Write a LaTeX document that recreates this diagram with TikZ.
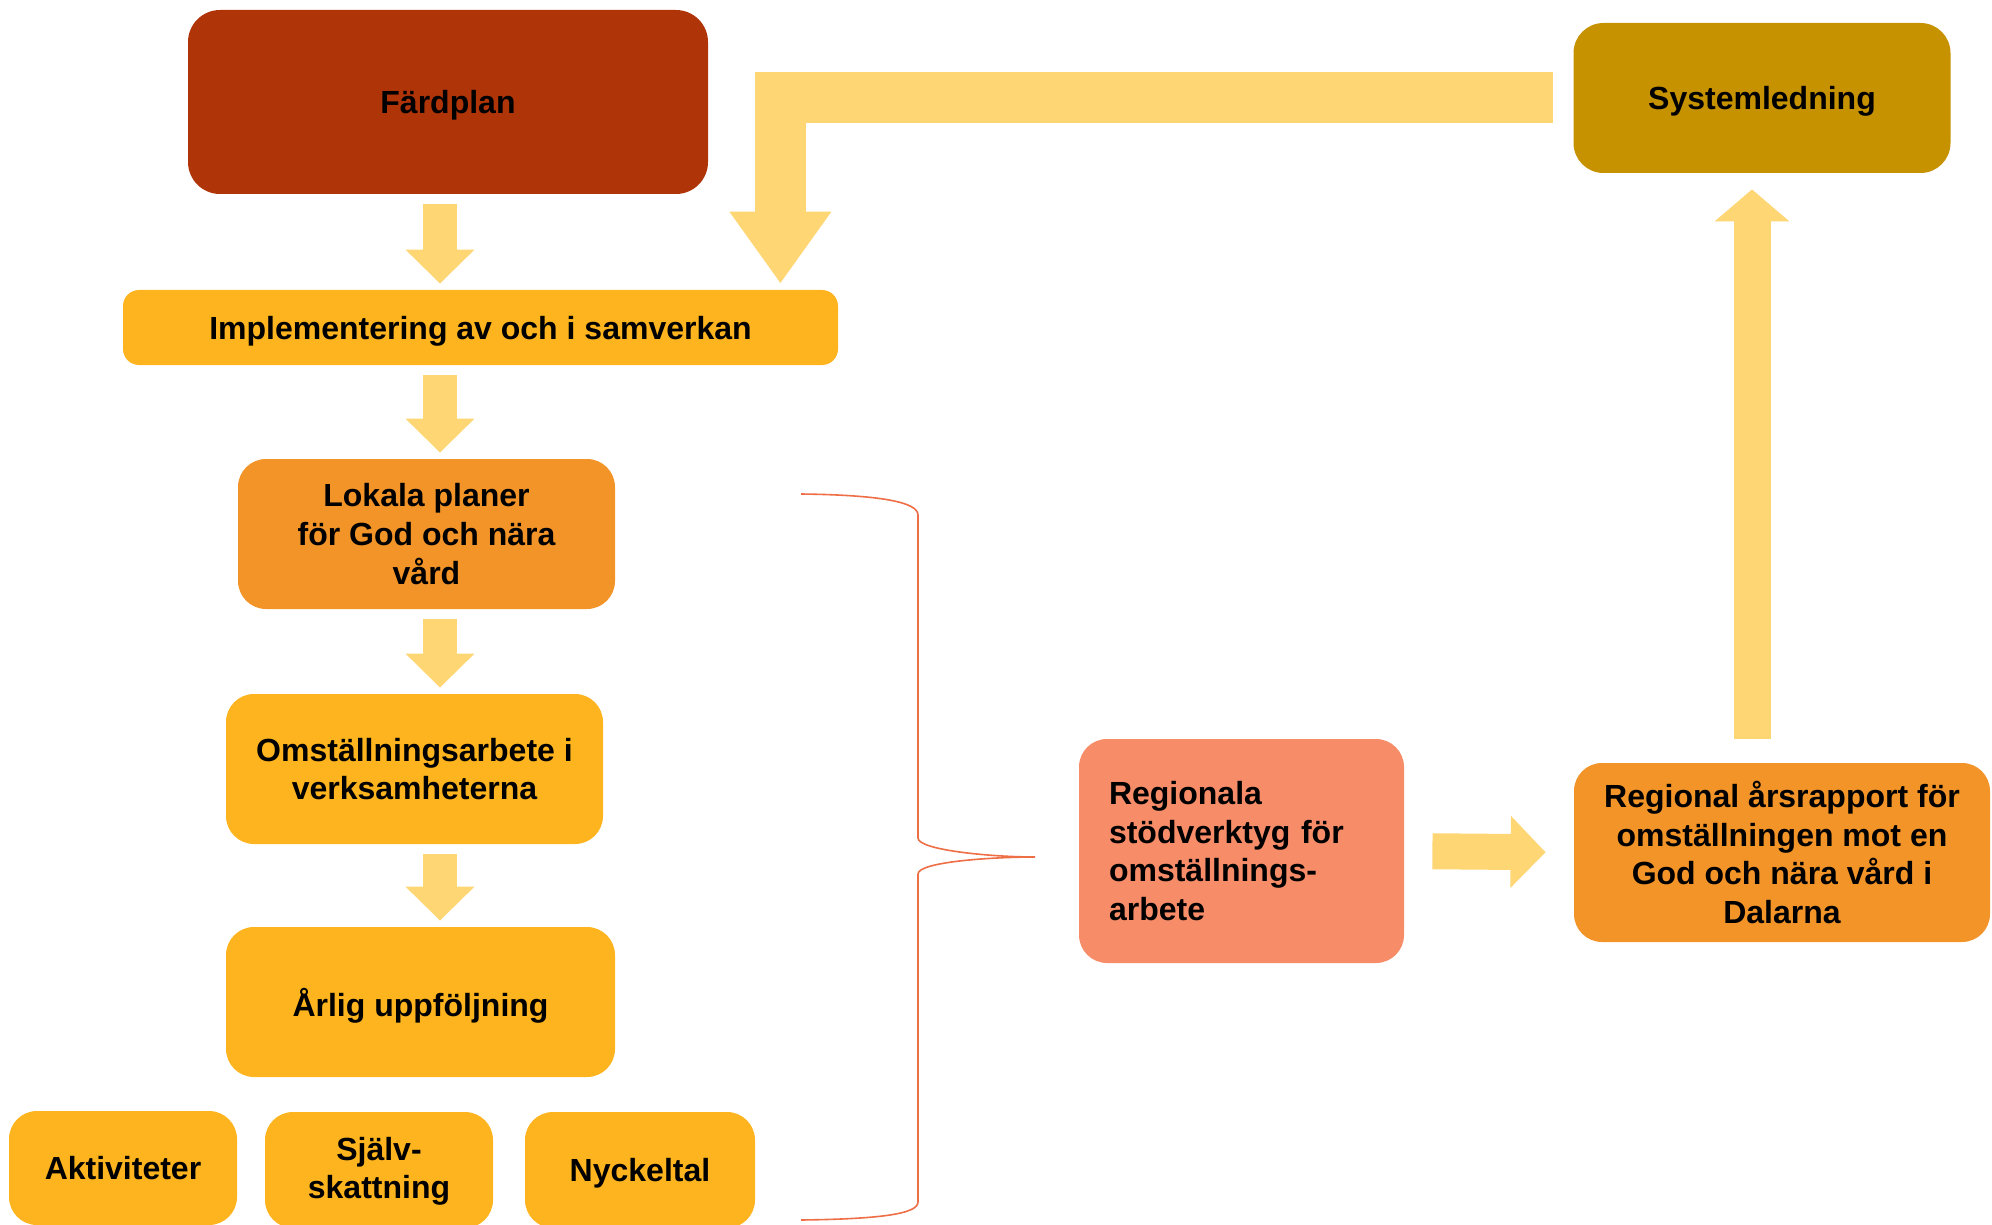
\documentclass[tikz,border=0pt]{standalone}
\usepackage{fontspec}
\setmainfont{Liberation Sans}
\usetikzlibrary{arrows.meta}

\definecolor{rust}{HTML}{AF3408}
\definecolor{mustard}{HTML}{C79200}
\definecolor{gold}{HTML}{FDB41E}
\definecolor{amber}{HTML}{F29428}
\definecolor{salmon}{HTML}{F78C68}
\definecolor{pale}{HTML}{FED673}
\definecolor{bracered}{HTML}{EE6E46}

\tikzset{
	box/.style={rounded corners=14pt, inner sep=0pt, align=center, text=black,
		font=\fontsize{16}{19.3}\selectfont\bfseries},
	oneline/.style={text depth=0pt},
	smallarrow/.style={draw=pale, line width=17pt, -{Triangle[length=17pt,width=33.5pt]},
		shorten <=5pt, shorten >=3pt},
	bigarrow/.style={draw=pale, line width=25.5pt, -{Triangle[length=36pt,width=48.5pt]}},
	midarrow/.style={draw=pale, line width=18pt, -{Triangle[length=17.5pt,width=35pt]}},
}

\begin{document}
\begin{tikzpicture}[x=0.5pt, y=-0.5pt]
	\useasboundingbox (0,0) rectangle (1992,1225);

	% left column
	\node[box, oneline, fill=rust, rounded corners=16pt, minimum width=260pt, minimum height=92pt] (fard) at (448,102) {Färdplan};
	\node[box, oneline, fill=gold, rounded corners=8pt, minimum width=357.5pt, minimum height=37.5pt] (impl) at (480.5,327.5) {Implementering av och i samverkan};
	\node[box, fill=amber, minimum width=188.5pt, minimum height=75pt] (lokala) at (426.5,534) {Lokala planer\\för God och nära\\vård};
	\node[box, fill=gold, minimum width=188.5pt, minimum height=75pt] (omst) at (414.5,769) {Omställningsarbete i\\verksamheterna};
	\node[box, oneline, fill=gold, minimum width=194.5pt, minimum height=75pt] (arlig) at (420.5,1002) {Årlig uppföljning};

	% bottom row
	\node[box, fill=gold, minimum width=114pt, minimum height=57pt] (akt) at (123,1168) {Aktiviteter};
	\node[box, fill=gold, minimum width=114pt, minimum height=58pt, text depth=2pt] (sjalv) at (379,1170) {Själv-\\skattning};
	\node[box, oneline, fill=gold, minimum width=115pt, minimum height=58pt] (nyck) at (640,1170) {Nyckeltal};

	% right side
	\node[box, oneline, fill=mustard, rounded corners=15pt, minimum width=188.5pt, minimum height=75pt] (sys) at (1762,98) {Systemledning};
	\node[box, fill=salmon, align=left, text width=132.5pt, inner xsep=15pt, minimum height=112pt] (stod) at (1241.5,851) {Regionala\\stödverktyg för\\omställnings-\\arbete};
	\node[box, fill=amber, minimum width=208pt, minimum height=89.5pt] (rapport) at (1782,852.5) {Regional årsrapport för\\omställningen mot en\\God och nära vård i\\Dalarna};

	\coordinate (col) at (440,0);
	\coordinate (fb) at ([xshift=-29pt]impl.north east);

	% arrows
	\draw[smallarrow] (fard.south -| col) -- (impl.north -| col);
	\draw[smallarrow] (impl.south -| col) -- (lokala.north -| col);
	\draw[smallarrow] (lokala.south -| col) -- (omst.north -| col);
	\draw[smallarrow] (omst.south -| col) -- (arlig.north -| col);
	\draw[bigarrow, shorten <=10pt, shorten >=3pt] (sys.west) -| (fb);
	\draw[midarrow, shorten <=14pt, shorten >=14pt] (stod.east) -- (rapport.west);
	\draw[draw=pale, line width=18.5pt, -{Triangle[length=16pt,width=36.5pt]}, shorten <=12pt, shorten >=8pt]
		([xshift=-15pt]rapport.north) -- ([xshift=-15pt]rapport.north |- sys.south);

	% brace
	\draw[bracered, line width=0.8pt] (801,494) .. controls (880,495) and (918,502) .. (918,515)
		-- (918,838) .. controls (918,850) and (990,857) .. (1035,857)
		.. controls (990,857) and (918,862) .. (918,874)
		-- (918,1202) .. controls (918,1214) and (880,1219) .. (801,1220);
\end{tikzpicture}
\end{document}
